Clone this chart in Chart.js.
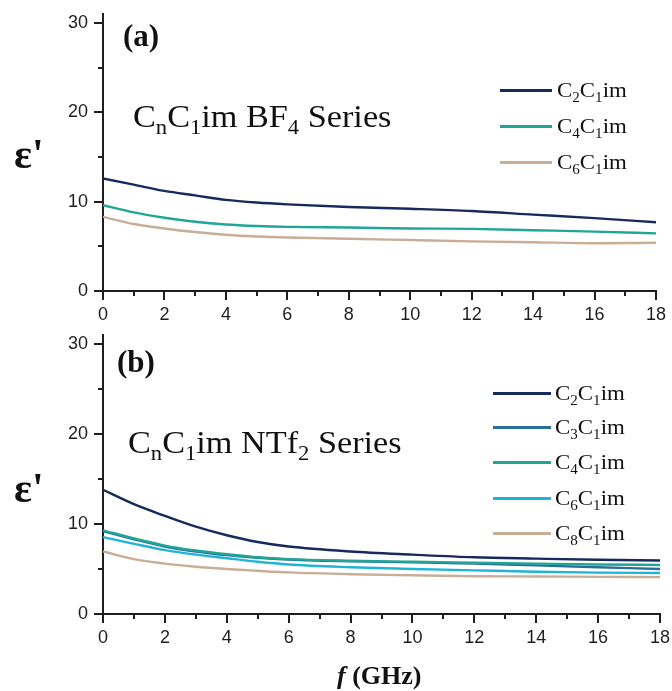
<!DOCTYPE html>
<html>
<head>
<meta charset="utf-8">
<script src="https://cdn.jsdelivr.net/npm/chart.js@4.4.1/dist/chart.umd.min.js"></script>
<style>
  html, body { margin:0; padding:0; background:#fff; }
  #wrap { position:relative; width:672px; height:691px; overflow:hidden; font-family:"Liberation Serif", "Times New Roman", serif; color:#111; }
  .box { position:absolute; left:0; width:672px; }
  .t { position:absolute; white-space:nowrap; line-height:1; transform-origin:left top; }
  .t sub { font-size:0.66em; vertical-align:-0.32em; line-height:0; }
  .sw { position:absolute; height:3px; }
</style>
</head>
<body>
<div id="wrap">
  <div class="box" style="top:0;height:330px;"><canvas id="ca"></canvas></div>
  <div class="box" style="top:330px;height:361px;"><canvas id="cb"></canvas></div>
</div>
<script>
// ---------- data ----------
const freq = [0, 1, 2, 3, 4, 5, 6, 8, 10, 12, 14, 16, 18];
const xTicks = [0, 2, 4, 6, 8, 10, 12, 14, 16, 18];
const yTicks = [0, 10, 20, 30];

// panel (a): CnC1im BF4 series
const bf4Names  = ['C2C1im', 'C4C1im', 'C6C1im'];
const bf4_C2 = [12.6, 11.9, 11.2, 10.7, 10.2, 9.9, 9.7, 9.4, 9.2, 8.95, 8.55, 8.15, 7.7];
const bf4_C4 = [9.6, 8.8, 8.2, 7.75, 7.45, 7.28, 7.18, 7.1, 7.0, 6.95, 6.8, 6.65, 6.45];
const bf4_C6 = [8.3, 7.5, 7.0, 6.6, 6.3, 6.1, 5.98, 5.85, 5.7, 5.55, 5.45, 5.35, 5.4];

// panel (b): CnC1im NTf2 series
const ntfNames = ['C2C1im', 'C3C1im', 'C4C1im', 'C6C1im', 'C8C1im'];
const ntf_C2 = [13.8, 12.2, 10.9, 9.7, 8.75, 8.0, 7.5, 6.95, 6.6, 6.3, 6.15, 6.02, 5.95];
const ntf_C3 = [9.2, 8.3, 7.5, 6.95, 6.55, 6.25, 6.05, 5.85, 5.75, 5.6, 5.4, 5.2, 5.0];
const ntf_C4 = [9.3, 8.4, 7.6, 7.05, 6.65, 6.3, 6.1, 5.92, 5.8, 5.7, 5.6, 5.5, 5.45];
const ntf_C6 = [8.55, 7.8, 7.1, 6.6, 6.2, 5.8, 5.5, 5.2, 5.0, 4.85, 4.7, 4.6, 4.55];
const ntf_C8 = [6.95, 6.1, 5.6, 5.25, 5.0, 4.8, 4.62, 4.42, 4.3, 4.2, 4.17, 4.13, 4.1];

// ---------- styles ----------
const col = { C2:'#172a5c', C3:'#2a6e9c', C4:'#21a597', C6:'#20b3d8', C8:'#c8ad97' };
const AX = '#1e1e1e';

function ds(label, vals, color, order) {
  return {
    label, data: freq.map((f, i) => ({ x: f, y: vals[i] })),
    borderColor: color, backgroundColor: color, borderWidth: 2.4, order,
    pointRadius: 0, cubicInterpolationMode: 'monotone', fill: false
  };
}

const minorTicks = {
  id: 'minorTicks',
  afterDraw(chart) {
    const { ctx, scales: { x, y } } = chart;
    ctx.save();
    ctx.strokeStyle = AX; ctx.lineWidth = 2;
    for (let v = 1; v < 18; v += 2) {
      const px = Math.round(x.getPixelForValue(v));
      ctx.beginPath(); ctx.moveTo(px, y.bottom); ctx.lineTo(px, y.bottom + 5); ctx.stroke();
    }
    for (const v of [5, 15, 25]) {
      const py = Math.round(y.getPixelForValue(v));
      ctx.beginPath(); ctx.moveTo(x.left - 5, py); ctx.lineTo(x.left, py); ctx.stroke();
    }
    ctx.restore();
  }
};

function makeChart(id, datasets, pad, yWidth, xHeight) {
  return new Chart(document.getElementById(id), {
    type: 'line',
    data: { datasets },
    plugins: [minorTicks],
    options: {
      responsive: true, maintainAspectRatio: false, animation: false,
      layout: { padding: pad },
      plugins: { legend: { display: false }, tooltip: { enabled: false } },
      scales: {
        x: {
          type: 'linear', min: 0, max: 18,
          afterBuildTicks: s => { s.ticks = xTicks.map(v => ({ value: v })); },
          afterFit: s => { s.height = xHeight; s.paddingLeft = 0; s.paddingRight = 0; },
          grid: { display: true, drawOnChartArea: false, drawTicks: true, tickLength: 9, lineWidth: 2, color: AX },
          border: { display: true, width: 2, color: AX },
          ticks: { color: AX, padding: 4, maxRotation: 0, autoSkip: false,
                   font: { family: '"Liberation Sans", Arial, sans-serif', size: 18 } }
        },
        y: {
          type: 'linear', min: 0, max: 31,
          afterBuildTicks: s => { s.ticks = yTicks.map(v => ({ value: v })); },
          afterFit: s => { s.width = yWidth; s.paddingTop = 0; s.paddingBottom = 0; },
          grid: { display: true, drawOnChartArea: false, drawTicks: true, tickLength: 9, lineWidth: 2, color: AX },
          border: { display: true, width: 2, color: AX },
          ticks: { color: AX, padding: 6, autoSkip: false,
                   font: { family: '"Liberation Sans", Arial, sans-serif', size: 18 } }
        }
      }
    }
  });
}

makeChart('ca', [
  ds(bf4Names[0], bf4_C2, col.C2, 0),
  ds(bf4Names[1], bf4_C4, col.C4, 1),
  ds(bf4Names[2], bf4_C6, col.C8, 2)
], { top: 14, right: 16, left: 0, bottom: 0 }, 103, 39);

makeChart('cb', [
  ds(ntfNames[0], ntf_C2, col.C2, 0),
  ds(ntfNames[1], ntf_C3, col.C3, 2),
  ds(ntfNames[2], ntf_C4, col.C4, 1),
  ds(ntfNames[3], ntf_C6, col.C6, 3),
  ds(ntfNames[4], ntf_C8, col.C8, 4)
], { top: 5, right: 12, left: 0, bottom: 0 }, 103, 77);

// ---------- text overlays ----------
const wrap = document.getElementById('wrap');
function addText(html, left, top, css) {
  const d = document.createElement('div');
  d.className = 't'; d.innerHTML = html;
  d.style.left = left + 'px'; d.style.top = top + 'px';
  Object.assign(d.style, css || {});
  wrap.appendChild(d);
  return d;
}
function subName(n) { return n.replace(/^C(\d)C(\d)im$/, 'C<sub>$1</sub>C<sub>$2</sub>im'); }
function addLegend(names, colors, x1, x2, tx, rows) {
  names.forEach((n, i) => {
    const s = document.createElement('div');
    s.className = 'sw';
    s.style.left = x1 + 'px'; s.style.width = (x2 - x1) + 'px';
    s.style.top = (rows[i] - 1.5) + 'px'; s.style.background = colors[i];
    wrap.appendChild(s);
    addText(subName(n), tx, rows[i] - 11, { fontSize: '22px', transform: 'scaleX(1.04)' });
  });
}

// panel (a)
addText('(a)', 123, 20, { fontSize: '31px', fontWeight: 'bold' });
addText('&#949;\'', 14, 133, { fontSize: '42px', fontWeight: 'bold' });
addText('C<sub>n</sub>C<sub>1</sub>im BF<sub>4</sub> Series', 133, 100, { fontSize: '32px', transform: 'scaleX(1.07)' });
addLegend(bf4Names, [col.C2, col.C4, col.C8], 500, 552, 557, [90, 126, 162]);

// panel (b)
addText('(b)', 117, 346, { fontSize: '31px', fontWeight: 'bold' });
addText('&#949;\'', 14, 467, { fontSize: '42px', fontWeight: 'bold' });
addText('C<sub>n</sub>C<sub>1</sub>im NTf<sub>2</sub> Series', 128, 426, { fontSize: '32px', transform: 'scaleX(1.07)' });
addLegend(ntfNames, [col.C2, col.C3, col.C4, col.C6, col.C8], 493, 551, 555, [393, 427, 462, 498, 533]);

// x-axis title
addText('<i>f</i> (GHz)', 337, 663, { fontSize: '26px', fontWeight: 'bold' });
</script>
</body>
</html>
